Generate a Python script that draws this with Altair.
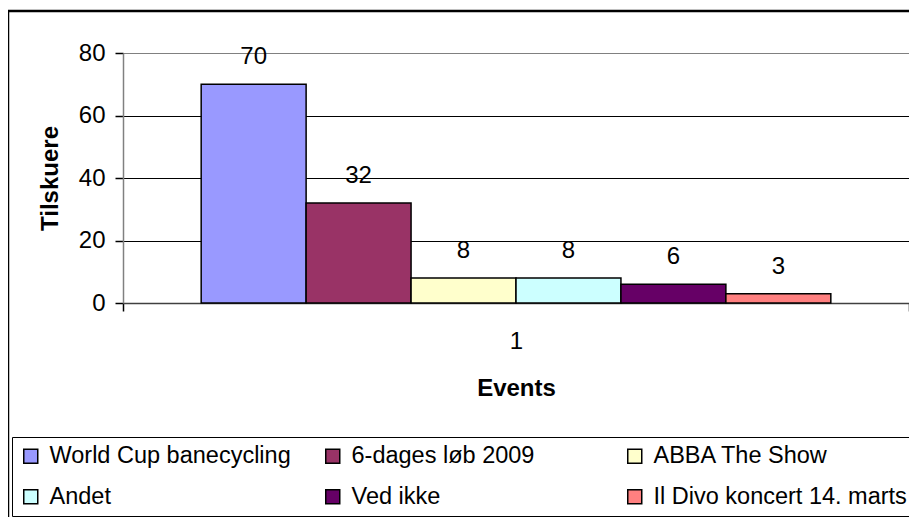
import altair as alt
import pandas as pd

categories = ["1"]
series = ["World Cup banecycling", "6-dages løb 2009", "ABBA The Show",
          "Andet", "Ved ikke", "Il Divo koncert 14. marts"]
values = [70, 32, 8, 8, 6, 3]
colors = ["#9999FF", "#993366", "#FFFFCC", "#CCFFFF", "#660066", "#FF8080"]
y_ticks = [0, 20, 40, 60, 80]

df = pd.DataFrame({"cat": categories * len(series), "serie": series, "value": values})

FONT = "Liberation Sans"

xenc = alt.X("cat:N", title="Events",
             scale=alt.Scale(paddingInner=0, paddingOuter=0),
             axis=alt.Axis(labelAngle=0, labelFontSize=24, labelFont=FONT, labelColor="black",
                           titleFontSize=24, titleFont=FONT, titleFontWeight="bold", titleColor="black",
                           tickBand="extent", tickSize=8, tickColor="black", tickWidth=1.5,
                           domainColor="#404040", domainWidth=1.5,
                           labelPadding=18, titlePadding=23))
xoff = alt.XOffset("serie:N", sort=series,
                   scale=alt.Scale(paddingInner=0, paddingOuter=0.745))
yenc = alt.Y("value:Q", title="Tilskuere",
             scale=alt.Scale(domain=[0, 80], nice=False),
             axis=alt.Axis(values=y_ticks, labelFontSize=24, labelFont=FONT, labelColor="black",
                           titleFontSize=24, titleFont=FONT, titleFontWeight="bold", titleColor="black",
                           tickSize=8, tickColor="black", tickWidth=1.5,
                           domainColor="#808080", domainWidth=1.5,
                           grid=True,
                           gridColor={"condition": {"test": "datum.value >= 80", "value": "#808080"},
                                      "value": "black"},
                           gridWidth=1.2,
                           labelPadding=10, titlePadding=16))

bars = alt.Chart(df).mark_bar(stroke="black", strokeWidth=1.5, opacity=1).encode(
    x=xenc, xOffset=xoff, y=yenc,
    color=alt.Color("serie:N", sort=series,
                    scale=alt.Scale(domain=series, range=colors),
                    legend=alt.Legend(orient="none", legendX=-111, legendY=384,
                                      direction="horizontal", columns=3, gridAlign="all",
                                      symbolType="square", symbolSize=196,
                                      symbolStrokeColor="black", symbolStrokeWidth=1.5,
                                      symbolOpacity=1,
                                      labelFontSize=23.5, labelFont=FONT, labelColor="black",
                                      labelOffset=7, labelLimit=400,
                                      columnPadding=18, rowPadding=16, padding=7,
                                      strokeColor="black", title=None)),
)

labels = alt.Chart(df).mark_text(baseline="middle", dy=-27, fontSize=24, font=FONT,
                                 color="black").encode(
    x=alt.X("cat:N"), xOffset=alt.XOffset("serie:N", sort=series), y=alt.Y("value:Q"),
    text=alt.Text("value:Q"),
)

border = alt.Chart(alt.Data(values=[{}])).mark_rect(
    filled=False, stroke="black", strokeWidth=2.5).encode(
    x=alt.value(-115), x2=alt.value(820), y=alt.value(-42), y2=alt.value(500),
)

chart = alt.layer(bars, labels, border).properties(
    width=786, height=250,
    autosize=alt.AutoSizeParams(type="none"),
    padding={"left": 115, "top": 45, "right": 0, "bottom": 214},
).configure_view(fill="#C0C0C0", stroke="#808080", strokeWidth=1.5
).configure(background="white")

chart.save("out.html", embed_options={"renderer": "svg", "actions": False})
